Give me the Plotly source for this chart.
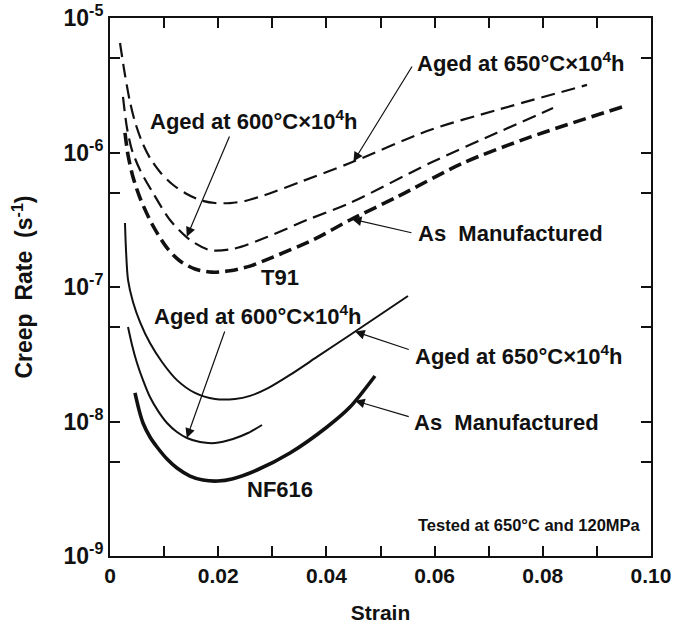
import numpy as np
import plotly.graph_objects as go

# Creep rate vs strain, tested at 650 C / 120 MPa
t91_a650_strain = [0.00185, 0.00277, 0.00370, 0.00462, 0.00591, 0.00739, 0.00924, 0.01146, 0.01386,
                   0.01664, 0.01941, 0.02218, 0.02495, 0.02865, 0.03512, 0.04436, 0.05915, 0.07153, 0.08817]
t91_a650_rate = [6.52e-6, 3.77e-6, 2.37e-6, 1.69e-6, 1.20e-6, 9.1e-7, 7.16e-7, 5.83e-7, 5.0e-7,
                 4.43e-7, 4.21e-7, 4.21e-7, 4.36e-7, 4.83e-7, 6.03e-7, 8.35e-7, 1.47e-6, 2.07e-6, 3.18e-6]

t91_a600_strain = [0.00240, 0.00314, 0.00407, 0.00555, 0.00795, 0.01109, 0.01479, 0.01848, 0.02274,
                   0.02902, 0.03641, 0.04436, 0.05915, 0.07153, 0.08189]
t91_a600_rate = [2.59e-6, 1.52e-6, 1.04e-6, 7.41e-7, 5.0e-7, 3.15e-7, 2.24e-7, 1.88e-7, 1.92e-7,
                 2.35e-7, 3.15e-7, 4.21e-7, 8.35e-7, 1.40e-6, 2.14e-6]

t91_am_strain = [0.00277, 0.00333, 0.00425, 0.00555, 0.00776, 0.01054, 0.01294, 0.01571, 0.01885,
                 0.02218, 0.02588, 0.03013, 0.03752, 0.04436, 0.05305, 0.06525, 0.07763, 0.09464]
t91_am_rate = [1.40e-6, 9.58e-7, 6.57e-7, 4.59e-7, 2.94e-7, 1.95e-7, 1.56e-7, 1.36e-7, 1.29e-7,
               1.32e-7, 1.43e-7, 1.67e-7, 2.24e-7, 3.15e-7, 4.67e-7, 8.35e-7, 1.30e-6, 2.18e-6]

nf_a650_strain = [0.00277, 0.00296, 0.00333, 0.00425, 0.00555, 0.00739, 0.00961, 0.01238, 0.01571,
                  0.01941, 0.02311, 0.02588, 0.02921, 0.03327, 0.03826, 0.04436, 0.05508]
nf_a650_rate = [2.99e-7, 1.88e-7, 1.13e-7, 7.74e-8, 5.49e-8, 3.83e-8, 2.77e-8, 2.03e-8, 1.63e-8,
                1.47e-8, 1.47e-8, 1.55e-8, 1.77e-8, 2.22e-8, 3.02e-8, 4.40e-8, 8.57e-8]

nf_a600_strain = [0.00333, 0.00407, 0.00499, 0.00610, 0.00739, 0.00887, 0.01054, 0.01238, 0.01423,
                  0.01664, 0.01941, 0.02274, 0.02551, 0.02810]
nf_a600_rate = [5.04e-8, 3.71e-8, 2.72e-8, 2.03e-8, 1.52e-8, 1.20e-8, 9.75e-9, 8.35e-9, 7.54e-9,
                7.04e-9, 6.92e-9, 7.41e-9, 8.21e-9, 9.42e-9]

nf_am_strain = [0.00462, 0.00536, 0.00610, 0.00739, 0.00869, 0.01054, 0.01238, 0.01479, 0.01719,
                0.01996, 0.02255, 0.02717, 0.03327, 0.04011, 0.04436, 0.04898]
nf_am_rate = [1.63e-8, 1.22e-8, 9.75e-9, 7.67e-9, 6.46e-9, 5.26e-9, 4.51e-9, 3.93e-9, 3.67e-9,
              3.61e-9, 3.74e-9, 4.36e-9, 5.83e-9, 9.10e-9, 1.28e-8, 2.18e-8]

x_tick_vals = [0.00, 0.01, 0.02, 0.03, 0.04, 0.05, 0.06, 0.07, 0.08, 0.09, 0.10]
x_tick_text = ["0", "", "0.02", "", "0.04", "", "0.06", "", "0.08", "", "0.10"]
y_tick_vals = [1e-9, 5e-9, 1e-8, 5e-8, 1e-7, 5e-7, 1e-6, 5e-6, 1e-5]
y_tick_text = ["10<sup>-9</sup>", "", "10<sup>-8</sup>", "", "10<sup>-7</sup>", "",
               "10<sup>-6</sup>", "", "10<sup>-5</sup>"]

FONT = "Liberation Sans, Arial, Helvetica, sans-serif"
INK = "#111111"

series = [
    (t91_a650_strain, t91_a650_rate, 2.2, "14px,7px"),
    (t91_a600_strain, t91_a600_rate, 2.2, "14px,7px"),
    (t91_am_strain, t91_am_rate, 3.6, "13px,6px"),
    (nf_a650_strain, nf_a650_rate, 2.0, "solid"),
    (nf_a600_strain, nf_a600_rate, 2.0, "solid"),
    (nf_am_strain, nf_am_rate, 3.6, "solid"),
]

fig = go.Figure()
for xs, ys, w, dash in series:
    fig.add_trace(go.Scatter(
        x=xs, y=ys, mode="lines",
        line=dict(color=INK, width=w, dash=dash, shape="spline", smoothing=0.8),
        showlegend=False, hoverinfo="skip",
    ))


def on_curve(xs, ys, x):
    """log10 of the rate on a curve at a given strain."""
    return float(np.interp(x, xs, np.log10(ys)))


def label(text, x, logy, size=22, xanchor="left"):
    fig.add_annotation(x=x, y=logy, xref="x", yref="y", text=text, showarrow=False,
                       xanchor=xanchor, yanchor="middle",
                       font=dict(family=FONT, size=size, color=INK, weight="bold"))


def arrow(xs, ys, x_tip, x_tail, logy_tail):
    fig.add_annotation(x=x_tip, y=on_curve(xs, ys, x_tip), xref="x", yref="y",
                       ax=x_tail, ay=logy_tail, axref="x", ayref="y",
                       text="", showarrow=True, arrowhead=2, arrowsize=1.6,
                       arrowwidth=1.2, arrowcolor=INK, standoff=0, startstandoff=0)


aged650 = "Aged at 650°C×10<sup>4</sup>h"
aged600 = "Aged at 600°C×10<sup>4</sup>h"
asman = "As\u00a0 Manufactured"

# T91 labels
label(aged650, 0.0564, -5.327)
arrow(t91_a650_strain, t91_a650_rate, 0.0450, 0.0560, -5.349)
label(aged600, 0.0070, -5.758)
arrow(t91_a600_strain, t91_a600_rate, 0.0142, 0.0222, -5.870)
label(asman, 0.0566, -6.599)
arrow(t91_am_strain, t91_am_rate, 0.0447, 0.0560, -6.599)
label("T91", 0.0314, -6.926, xanchor="center")

# NF616 labels
label(aged600, 0.0078, -7.208)
arrow(nf_a600_strain, nf_a600_rate, 0.0142, 0.0213, -7.320)
label(aged650, 0.0560, -7.506)
arrow(nf_a650_strain, nf_a650_rate, 0.0453, 0.0555, -7.468)
label(asman, 0.0558, -8.004)
arrow(nf_am_strain, nf_am_rate, 0.0453, 0.0555, -7.967)
label("NF616", 0.0314, -8.509, xanchor="center")

label("Tested at 650°C and 120MPa", 0.0566, -8.770, size=16.5)

axis_common = dict(
    showline=True, linewidth=2, linecolor=INK, mirror="ticks",
    ticks="inside", ticklen=10, tickwidth=1.5, tickcolor=INK,
    showgrid=False, zeroline=False, automargin=False,
)

fig.update_xaxes(range=[0, 0.1], tickmode="array", tickvals=x_tick_vals, ticktext=x_tick_text,
                 tickfont=dict(family=FONT, size=21, color=INK, weight="bold"),
                 title=dict(text="Strain", standoff=20,
                            font=dict(family=FONT, size=21, color=INK, weight="bold")),
                 **axis_common)
fig.update_yaxes(type="log", range=[-9, -5], tickmode="array", tickvals=y_tick_vals,
                 ticktext=y_tick_text,
                 tickfont=dict(family=FONT, size=23, color=INK, weight="bold"),
                 title=dict(text="Creep\u00a0 Rate\u00a0 (s<sup>-1</sup>)", standoff=24,
                            font=dict(family=FONT, size=23, color=INK, weight="bold")),
                 **axis_common)

fig.update_layout(
    width=678, height=624,
    margin=dict(l=110, r=27, t=18, b=68),
    paper_bgcolor="white", plot_bgcolor="white",
    font=dict(family=FONT, color=INK),
)

fig.write_html("out.html")
